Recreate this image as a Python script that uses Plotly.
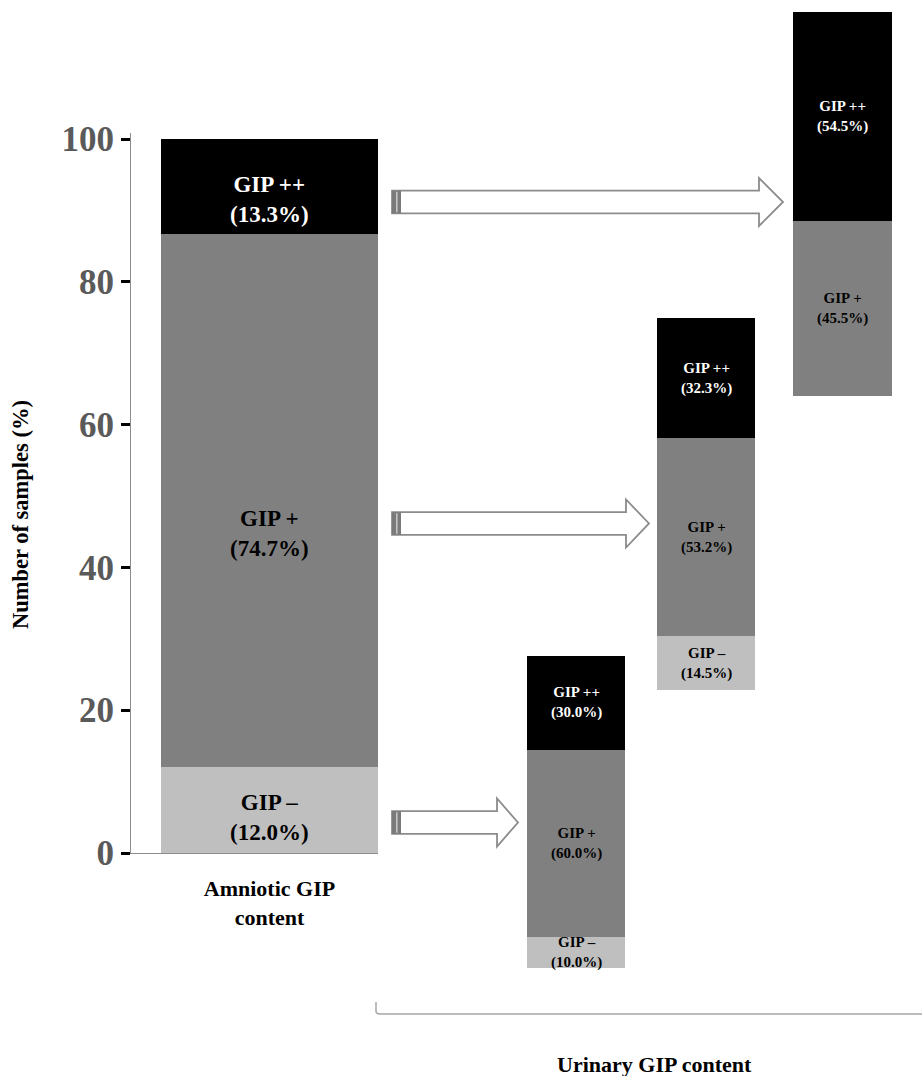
import plotly.graph_objects as go

# ---------------- data ----------------
segments = ["GIP –", "GIP +", "GIP ++"]
amniotic_category = ["Amniotic GIP<br>content"]
amniotic_values = [12.0, 74.7, 13.3]
urinary_from_minus = [10.0, 60.0, 30.0]
urinary_from_plus = [14.5, 53.2, 32.3]
urinary_from_plusplus = [None, 45.5, 54.5]
y_ticks = [0, 20, 40, 60, 80, 100]
y_title = "Number of samples (%)"
urinary_title = "Urinary GIP content"

# ---------------- style ----------------
W, H = 922, 1076
FONT = "Liberation Serif"
seg_colors = ["#bfbfbf", "#808080", "#000000"]
seg_text_colors = ["#000000", "#000000", "#ffffff"]
main_label_shift_px = [-7, -33, -13]   # label placement tweaks (pixels, negative = down)


def fx(p):
    return p / W


def fy(p):
    return 1 - p / H


fig = go.Figure()

# Main (amniotic) bar subplot: pixel geometry
AX_L, BAR_L, BAR_R = 131, 161, 378
Y0_PX, Y_TOP_PX, PX_PER_UNIT = 853, 133, 7.14
x_span = (BAR_R - AX_L) / (BAR_R - BAR_L)

annotations = []
cum = 0
for i, (name, v) in enumerate(zip(segments, amniotic_values)):
    fig.add_trace(go.Bar(x=amniotic_category, y=[v], width=1,
                         marker=dict(color=seg_colors[i], line=dict(width=0)),
                         xaxis="x", yaxis="y", showlegend=False, hoverinfo="skip"))
    annotations.append(dict(x=amniotic_category[0], y=cum + v / 2, xref="x", yref="y",
                            yshift=main_label_shift_px[i],
                            text=f"{name}<br>({v:.1f}%)", showarrow=False,
                            font=dict(family=FONT, size=23, color=seg_text_colors[i], weight="bold")))
    cum += v

# Floating urinary bars, each on its own hidden axes
floating = [
    (urinary_from_minus, (527, 625), (656, 968)),
    (urinary_from_plus, (657, 755), (318, 690)),
    (urinary_from_plusplus, (793, 892), (12, 396)),
]
layout_axes = {}
for k, (vals, (xl, xr), (yt, yb)) in enumerate(floating, start=2):
    cat = [f"urinary{k}"]
    cum = 0
    for i, (name, v) in enumerate(zip(segments, vals)):
        if v is None:
            continue
        fig.add_trace(go.Bar(x=cat, y=[v], width=1,
                             marker=dict(color=seg_colors[i], line=dict(width=0)),
                             xaxis=f"x{k}", yaxis=f"y{k}", showlegend=False, hoverinfo="skip"))
        annotations.append(dict(x=cat[0], y=cum + v / 2, xref=f"x{k}", yref=f"y{k}",
                                text=f"{name}<br>({v:.1f}%)", showarrow=False,
                                font=dict(family=FONT, size=15, color=seg_text_colors[i], weight="bold")))
        cum += v
    layout_axes[f"xaxis{k}"] = dict(domain=[fx(xl), fx(xr)], range=[-0.5, 0.5], visible=False,
                                    anchor=f"y{k}", fixedrange=True, automargin=False)
    layout_axes[f"yaxis{k}"] = dict(domain=[fy(yb), fy(yt)], range=[0, 100], visible=False,
                                    anchor=f"x{k}", fixedrange=True, automargin=False)

# Arrows (decorative)
ARROW_COLOR = "#8c8c8c"
arrows = [
    (392, 759, 783, 202),
    (392, 626, 649, 523.5),
    (392, 497, 518, 822.5),
]
HS, HH = 11.3, 24
shapes = []
for x0, hb, tip, yc in arrows:
    pts = [(x0, yc - HS), (hb, yc - HS), (hb, yc - HH), (tip, yc), (hb, yc + HH), (hb, yc + HS), (x0, yc + HS)]
    path = "M " + " L ".join(f"{fx(a):.5f},{fy(b):.5f}" for a, b in pts) + " Z"
    shapes.append(dict(type="path", path=path, xref="paper", yref="paper",
                       line=dict(color=ARROW_COLOR, width=1.8), fillcolor="white"))
    shapes.append(dict(type="rect", xref="paper", yref="paper",
                       x0=fx(x0), x1=fx(x0 + 9), y0=fy(yc + HS), y1=fy(yc - HS),
                       line=dict(width=0), fillcolor="#7a7a7a"))
    shapes.append(dict(type="line", xref="paper", yref="paper",
                       x0=fx(x0 + 4.8), x1=fx(x0 + 4.8), y0=fy(yc + HS - 1), y1=fy(yc - HS + 1),
                       line=dict(color="#c8c8c8", width=1.5)))

# Bracket under urinary bars
bracket = f"M {fx(376)},{fy(1002)} L {fx(376)},{fy(1011)} Q {fx(376)},{fy(1014)} {fx(380)},{fy(1014)} L {fx(922)},{fy(1014)}"
shapes.append(dict(type="path", path=bracket, xref="paper", yref="paper",
                   line=dict(color="#a6a6a6", width=1.5)))

# Titles
annotations.append(dict(x=fx(20), y=fy(515), xref="paper", yref="paper", text=y_title,
                        textangle=-90, showarrow=False, xanchor="center", yanchor="middle",
                        font=dict(family=FONT, size=22.5, color="black", weight="bold")))
annotations.append(dict(x=fx(654), y=fy(1064), xref="paper", yref="paper", text=urinary_title,
                        showarrow=False, xanchor="center", yanchor="middle",
                        font=dict(family=FONT, size=22, color="black", weight="bold")))

fig.update_layout(
    width=W, height=H,
    margin=dict(l=0, r=0, t=0, b=0, autoexpand=False),
    paper_bgcolor="white", plot_bgcolor="rgba(0,0,0,0)",
    barmode="stack", bargap=0,
    showlegend=False,
    xaxis=dict(domain=[fx(AX_L), fx(BAR_R)], range=[0.5 - x_span, 0.5], type="category",
               showline=True, linecolor="#8c8c8c", linewidth=1, ticks="",
               ticklabelstandoff=16, automargin=False,
               showgrid=False, zeroline=False, fixedrange=True, anchor="y",
               tickfont=dict(family=FONT, size=22, color="black", weight="bold")),
    yaxis=dict(domain=[fy(Y0_PX), fy(Y_TOP_PX)], range=[0, (Y0_PX - Y_TOP_PX) / PX_PER_UNIT],
               tickvals=y_ticks, ticktext=[str(t) for t in y_ticks],
               showline=True, linecolor="#8c8c8c", linewidth=1,
               ticks="outside", ticklen=9, tickwidth=3, tickcolor="black",
               ticklabelstandoff=0, automargin=False,
               showgrid=False, zeroline=False, fixedrange=True, anchor="x",
               tickfont=dict(family=FONT, size=35, color="#5a5a5a", weight="bold")),
    shapes=shapes,
    annotations=annotations,
    **layout_axes,
)

fig.write_html("out.html", config={"displayModeBar": False},
               post_script="document.body.style.margin='0';document.body.style.overflow='hidden';")
